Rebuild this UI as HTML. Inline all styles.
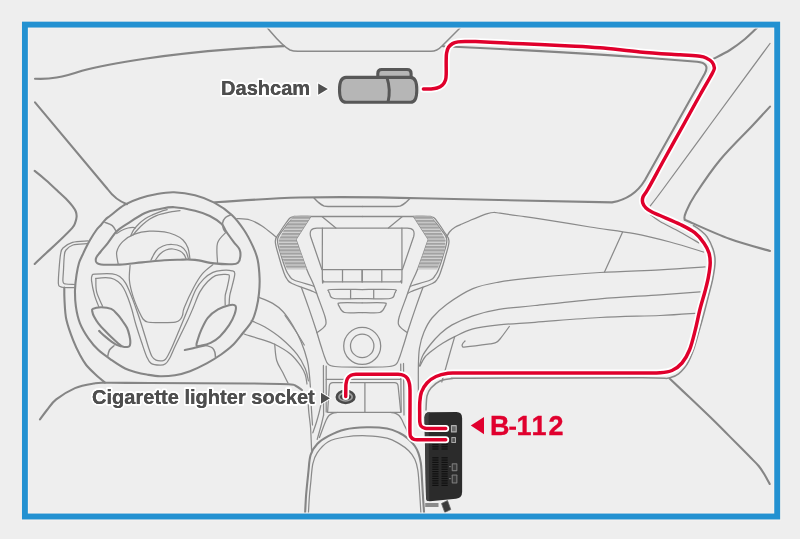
<!DOCTYPE html>
<html><head><meta charset="utf-8">
<style>
html,body{margin:0;padding:0;background:#eeeeee;width:800px;height:539px;overflow:hidden}
svg{display:block;will-change:transform}
.k{fill:none;stroke:#858585;stroke-width:2.1;stroke-linecap:round;stroke-linejoin:round}
.m{fill:none;stroke:#8a8a8a;stroke-width:1.5;stroke-linecap:round;stroke-linejoin:round}
.n{fill:none;stroke:#8a8a8a;stroke-width:1.25;stroke-linecap:round;stroke-linejoin:round}
.lbl{font-family:"Liberation Sans",sans-serif;font-weight:bold;fill:#505050;stroke:#fff;stroke-width:4;paint-order:stroke;stroke-linejoin:round}
.lbl2{font-family:"Liberation Sans",sans-serif;font-weight:bold;fill:#4e4e4e;stroke:#4e4e4e;stroke-width:0.15}
.red{fill:none;stroke:#e0002c;stroke-width:3.5;stroke-linecap:round;stroke-linejoin:round}
.halo{fill:none;stroke:#fff;stroke-width:7;stroke-linecap:round;stroke-linejoin:round}
</style></head><body>
<svg width="800" height="539" viewBox="0 0 800 539">
<defs>
<clipPath id="cp"><rect x="27.9" y="27.6" width="746.4" height="485.9"/></clipPath>
<pattern id="hatch" width="4" height="3.25" patternUnits="userSpaceOnUse" y="216.8"><rect width="4" height="3.25" fill="#d6d6d6"/><rect width="4" height="2.1" fill="#a2a2a2"/></pattern>
</defs>
<g clip-path="url(#cp)">
<path class="k" d="M713.3,59.0 C716.1,57.5 724.7,53.3 730.0,50.0 C735.3,46.7 740.5,42.7 745.0,39.0 C749.5,35.3 755.0,29.7 757.0,27.8"/>
<path class="k" d="M770.0,106.6 C767.2,109.7 761.3,116.1 753.0,125.0 C744.7,133.9 729.7,148.3 720.0,160.0 C710.3,171.7 700.7,186.3 695.0,195.0 C689.3,203.7 687.7,208.0 686.0,212.0 C684.3,216.0 683.9,217.1 684.6,218.8 C685.3,220.5 682.4,218.6 690.0,222.0 C697.6,225.4 716.7,234.2 730.0,239.0 C743.3,243.8 763.3,249.0 770.0,251.0"/>
<path class="k" d="M34.7,170.9 C36.6,172.4 42.0,176.7 46.0,180.2 C50.0,183.7 55.1,188.6 58.4,191.7 C61.7,194.8 63.7,196.4 66.0,198.8 C68.3,201.2 70.7,203.8 72.3,205.9 C73.9,208.0 75.1,209.7 75.8,211.5 C76.5,213.3 76.7,215.0 76.6,216.8 C76.5,218.6 76.0,220.5 75.3,222.3 C74.6,224.2 75.1,224.7 72.3,227.9 C69.5,231.2 62.8,237.6 58.4,241.8 C54.0,246.0 50.0,249.5 46.0,253.2 C42.0,256.9 36.6,262.2 34.7,264.0"/>
<path class="k" d="M174.0,192.3 C180.5,192.5 188.3,193.5 195.0,195.2 C201.7,196.9 208.1,199.3 214.3,202.6 C220.5,205.9 227.2,210.6 232.1,215.2 C237.0,219.8 240.5,224.8 244.0,230.0 C247.5,235.2 250.6,241.4 252.9,246.4 C255.2,251.4 256.6,254.6 257.7,260.0 C258.8,265.4 259.4,273.0 259.6,278.6 C259.8,284.2 259.5,288.5 259.0,293.4 C258.5,298.3 257.7,303.4 256.5,308.0 C255.3,312.6 254.3,316.8 252.0,321.0 C249.7,325.2 245.8,329.4 242.5,333.5 C239.2,337.6 235.9,342.1 232.3,345.6 C228.7,349.1 225.4,351.5 221.1,354.5 C216.8,357.5 211.9,360.6 206.7,363.4 C201.5,366.2 195.3,369.2 190.0,371.2 C184.7,373.2 180.0,374.4 175.0,375.2 C170.0,376.0 164.7,376.3 160.0,376.2 C155.3,376.1 150.9,375.2 146.7,374.5 C142.5,373.8 138.6,372.9 135.0,371.9 C131.4,370.9 129.0,370.4 125.1,368.5 C121.2,366.6 116.2,363.3 111.8,360.2 C107.3,357.1 102.3,353.7 98.4,350.1 C94.5,346.5 91.5,342.8 88.4,338.4 C85.3,333.9 82.1,328.7 80.0,323.4 C77.9,318.1 76.7,312.3 75.9,306.7 C75.1,301.1 74.9,295.3 75.0,290.0 C75.1,284.7 75.8,279.5 76.5,275.0 C77.2,270.5 78.0,266.3 79.0,263.0 C80.0,259.7 81.4,257.4 82.5,255.0 C83.6,252.6 84.2,251.0 85.5,248.5 C86.8,246.0 88.2,243.1 90.0,240.0 C91.8,236.9 94.6,232.5 96.4,230.0 C98.2,227.5 99.5,226.8 101.0,225.0 C102.5,223.2 103.9,221.1 105.5,219.5 C107.1,217.9 107.3,218.0 110.5,215.5 C113.7,213.0 120.0,207.6 124.9,204.7 C129.8,201.8 134.8,199.9 140.0,198.2 C145.2,196.4 150.3,195.2 156.0,194.2 C161.7,193.2 167.5,192.1 174.0,192.3 Z"/>
<path class="k" d="M116.7,231.2 C119.9,228.0 122.4,226.8 127.1,223.8 C131.8,220.8 139.5,215.5 145.0,213.0 C150.5,210.5 155.1,210.0 160.0,209.0 C164.9,208.0 168.6,206.9 174.4,207.2 C180.2,207.5 189.1,209.3 195.0,210.8 C200.9,212.3 205.4,213.8 209.8,216.0 C214.2,218.2 219.0,221.5 221.7,224.1 C224.4,226.7 224.2,228.5 226.2,231.5 C228.2,234.5 231.4,238.9 233.6,241.9 C235.8,244.9 238.4,246.8 239.5,249.3 C240.6,251.8 240.6,254.6 240.3,256.8 C240.1,259.0 239.4,261.5 238.0,262.7 C236.6,263.9 236.0,264.1 232.1,264.2 C228.2,264.3 220.5,264.1 214.3,263.4 C208.1,262.7 200.7,260.5 195.0,259.9 C189.3,259.3 185.1,259.6 180.0,259.7 C174.9,259.8 170.6,259.8 164.3,260.2 C158.0,260.6 149.4,261.7 142.0,262.4 C134.6,263.1 126.9,264.4 119.7,264.6 C112.5,264.9 102.9,264.9 98.9,263.9 C94.9,262.9 95.7,260.5 95.9,258.5 C96.2,256.5 98.4,254.6 100.4,252.0 C102.4,249.4 105.1,246.6 107.8,243.1 C110.5,239.6 113.5,234.4 116.7,231.2 Z"/>
<path class="k" d="M92.8,308.9 C94.2,308.1 98.0,307.2 101.1,307.2 C104.2,307.2 108.4,307.6 111.2,308.9 C114.0,310.2 116.1,313.0 118.0,315.0 C119.9,317.0 121.0,318.8 122.5,321.0 C124.0,323.2 125.9,325.5 127.1,328.0 C128.3,330.5 129.0,333.8 129.5,336.0 C130.0,338.2 130.2,339.5 130.3,341.0 C130.4,342.5 130.3,344.0 130.0,345.0 C129.7,346.0 129.7,346.6 128.4,346.8 C127.2,347.0 124.2,347.0 122.5,346.4 C120.8,345.8 119.8,344.7 118.0,343.2 C116.2,341.7 113.7,339.4 111.5,337.3 C109.3,335.2 107.2,333.1 105.0,330.8 C102.8,328.5 100.3,326.0 98.5,323.6 C96.7,321.2 95.0,318.4 94.0,316.5 C93.0,314.6 92.6,313.3 92.4,312.0 C92.2,310.7 91.3,309.7 92.8,308.9 Z"/>
<path class="k" d="M99.1,330.9 C100.1,331.8 102.9,334.6 105.0,336.4 C107.1,338.2 109.5,340.2 111.5,341.6 C113.5,343.0 115.1,344.1 116.7,344.9 C118.3,345.7 120.3,346.1 121.0,346.4"/>
<path class="k" d="M235.6,306.0 C234.7,304.4 232.0,304.6 229.1,305.2 C226.2,305.8 221.6,307.3 218.0,309.4 C214.4,311.5 210.6,314.4 207.8,317.8 C205.0,321.2 203.0,326.3 201.3,329.9 C199.6,333.5 198.6,336.9 197.8,339.5 C197.0,342.1 196.0,344.6 196.6,345.6 C197.2,346.6 199.0,346.1 201.3,345.6 C203.6,345.2 207.5,344.4 210.6,342.9 C213.7,341.4 216.8,339.3 219.9,336.4 C223.0,333.4 226.7,328.8 229.1,325.2 C231.5,321.6 233.4,317.7 234.5,314.5 C235.6,311.3 236.5,307.6 235.6,306.0 Z"/>
<path class="k" d="M184.8,350.0 C186.0,349.8 189.6,349.1 192.0,348.5 C194.4,347.9 196.7,347.2 199.0,346.7 C201.3,346.1 204.8,345.4 206.0,345.2"/>
<path class="k" d="M64.3,287.5 C64.3,289.6 64.2,294.6 64.5,300.0 C64.8,305.4 64.9,313.0 66.4,319.8 C67.9,326.6 71.0,334.8 73.3,340.7 C75.6,346.6 77.8,350.9 80.0,355.0 C82.2,359.1 83.8,361.8 86.2,365.0 C88.8,368.2 91.9,371.1 95.0,374.0 C98.1,376.9 103.3,381.2 105.0,382.6"/>
<path class="k" d="M669.6,378.6 C673.0,381.8 683.1,391.3 690.0,397.8 C696.9,404.3 704.8,411.8 710.7,417.5 C716.6,423.2 720.6,427.4 725.5,432.3 C730.4,437.2 736.1,442.9 740.2,447.0 C744.3,451.1 746.9,453.8 750.0,457.0 C753.1,460.2 756.3,463.1 758.7,466.0 C761.1,468.9 762.7,471.5 764.5,474.5 C766.3,477.5 768.8,482.4 769.7,484.0"/>
<path class="k" d="M40.0,419.4 C41.2,417.8 44.3,413.3 47.0,410.0 C49.7,406.7 51.6,403.0 56.2,399.4 C60.9,395.8 68.8,390.8 75.0,388.1 C81.2,385.5 88.5,384.4 93.8,383.5 C99.0,382.6 96.9,382.8 106.2,382.8 C115.6,382.7 126.0,382.9 150.0,383.0 C174.0,383.1 226.9,383.3 250.0,383.5 C273.1,383.7 281.0,383.8 288.7,384.2 C296.4,384.6 293.8,385.0 296.0,386.0 C298.2,387.0 301.0,389.3 302.0,390.0"/>
<path class="k" d="M305.0,515.0 C305.2,511.7 305.6,502.0 306.1,495.0 C306.7,488.0 307.6,479.5 308.3,472.8 C309.1,466.1 309.1,459.8 310.6,455.0 C312.1,450.2 314.2,447.0 317.2,443.9 C320.1,440.8 323.7,438.5 328.3,436.1 C332.9,433.7 338.6,431.0 345.0,429.5 C351.4,428.0 359.8,427.5 366.8,427.3 C373.8,427.1 381.6,427.6 387.0,428.5 C392.4,429.4 395.7,431.1 399.1,432.7 C402.5,434.3 404.9,435.9 407.5,438.1 C410.1,440.3 413.0,443.5 414.8,446.0 C416.6,448.5 417.4,450.4 418.4,453.2 C419.4,456.0 420.3,459.7 420.8,462.8 C421.3,465.9 421.3,467.5 421.6,472.0 C421.9,476.5 422.2,482.8 422.6,490.0 C423.0,497.2 423.9,510.8 424.2,515.0"/>
<g><path class="n" d="M321.9,216.6 L335.9,228.0"/>
<path class="n" d="M322.4,228.0 C322.4,236.4 322.2,269.7 322.4,278.5 C322.6,287.3 322.8,280.4 323.5,281.0 C324.2,281.6 320.1,281.7 326.5,281.8 C332.9,281.9 356.2,281.8 362.1,281.8"/>
<path class="n" d="M322.4,269.5 L362.1,269.5"/>
<path class="n" d="M342.5,269.5 L342.5,281.8"/>
<path class="n" d="M362.1,269.5 L362.1,281.8"/>
<path class="n" d="M362.1,289.5 C357.0,289.5 336.6,289.2 331.0,289.5 C325.4,289.8 329.1,290.9 328.8,291.5 C328.6,292.1 328.6,291.8 329.5,293.0 C330.4,294.2 328.9,297.6 334.3,298.5 C339.7,299.4 357.5,298.5 362.1,298.5"/>
<path class="n" d="M350.6,289.5 L350.6,298.5"/>
<path class="n" d="M362.1,302.8 C358.5,302.8 344.5,302.5 340.5,302.8 C336.5,303.1 338.6,304.0 338.4,304.5 C338.1,305.0 338.0,304.7 339.0,306.0 C340.0,307.3 340.6,311.4 344.5,312.5 C348.4,313.6 359.2,312.5 362.1,312.5"/>
<path class="n" d="M310.8,216.5 C308.4,216.5 299.6,216.1 296.5,216.5 C293.4,216.9 294.2,216.8 292.0,219.0 C289.8,221.2 285.4,226.5 283.0,230.0 C280.6,233.5 277.8,235.8 277.5,240.0 C277.2,244.2 279.6,250.0 281.0,255.0 C282.4,260.0 284.6,266.5 286.0,270.0 C287.4,273.5 288.2,274.3 289.5,276.0 C290.8,277.7 290.3,278.4 294.0,280.0 C297.7,281.6 308.4,284.4 311.7,285.5 C315.0,286.6 313.6,286.3 314.0,286.5"/>
<path class="n" d="M294.0,216.5 C293.3,216.8 291.3,216.9 290.0,218.0 C288.7,219.1 287.7,220.7 286.0,223.0 C284.3,225.3 281.8,229.0 280.0,232.0 C278.2,235.0 275.5,236.8 275.3,241.0 C275.1,245.2 277.6,251.7 279.0,257.0 C280.4,262.3 282.7,269.3 284.0,273.0 C285.3,276.7 285.7,277.2 287.0,279.0 C288.3,280.8 287.7,281.4 292.0,283.5 C296.3,285.6 308.9,289.8 313.0,291.5 C317.1,293.2 315.9,293.2 316.5,293.5"/>
<path class="n" d="M310.8,216.5 L296.0,239.5 C297.8,244.4 303.8,261.7 306.7,269.2 C309.6,276.7 311.7,280.0 313.5,284.5 C315.3,289.0 315.8,290.8 317.7,296.2 C319.6,301.6 323.8,312.3 325.1,317.0 C326.5,321.7 326.3,322.4 325.8,324.4 C325.3,326.4 323.6,327.5 322.1,328.9 C320.6,330.3 317.8,332.0 316.9,332.6"/>
<path class="n" d="M301.3,287.3 C302.6,290.8 306.3,300.9 308.8,308.1 C311.3,315.3 314.2,324.0 316.2,330.3 C318.2,336.6 319.5,341.4 321.0,346.0 C322.5,350.6 323.8,355.0 325.0,358.0 C326.2,361.0 326.3,362.6 328.0,364.0 C329.7,365.4 329.3,365.9 335.0,366.5 C340.7,367.1 357.6,367.2 362.1,367.4"/><path class="m" d="M314.0,198.0 C314.7,198.7 316.5,200.8 318.0,202.0 C319.5,203.2 321.3,204.8 323.0,205.5 C324.7,206.2 321.5,206.2 328.0,206.4 C334.5,206.6 356.5,206.4 362.1,206.4"/>
<path class="m" d="M294.0,216.5 L362.1,216.5"/></g><g transform="matrix(-1,0,0,1,724.3,0)"><path class="n" d="M321.9,216.6 L335.9,228.0"/>
<path class="n" d="M322.4,228.0 C322.4,236.4 322.2,269.7 322.4,278.5 C322.6,287.3 322.8,280.4 323.5,281.0 C324.2,281.6 320.1,281.7 326.5,281.8 C332.9,281.9 356.2,281.8 362.1,281.8"/>
<path class="n" d="M322.4,269.5 L362.1,269.5"/>
<path class="n" d="M342.5,269.5 L342.5,281.8"/>
<path class="n" d="M362.1,269.5 L362.1,281.8"/>
<path class="n" d="M362.1,289.5 C357.0,289.5 336.6,289.2 331.0,289.5 C325.4,289.8 329.1,290.9 328.8,291.5 C328.6,292.1 328.6,291.8 329.5,293.0 C330.4,294.2 328.9,297.6 334.3,298.5 C339.7,299.4 357.5,298.5 362.1,298.5"/>
<path class="n" d="M350.6,289.5 L350.6,298.5"/>
<path class="n" d="M362.1,302.8 C358.5,302.8 344.5,302.5 340.5,302.8 C336.5,303.1 338.6,304.0 338.4,304.5 C338.1,305.0 338.0,304.7 339.0,306.0 C340.0,307.3 340.6,311.4 344.5,312.5 C348.4,313.6 359.2,312.5 362.1,312.5"/>
<path class="n" d="M310.8,216.5 C308.4,216.5 299.6,216.1 296.5,216.5 C293.4,216.9 294.2,216.8 292.0,219.0 C289.8,221.2 285.4,226.5 283.0,230.0 C280.6,233.5 277.8,235.8 277.5,240.0 C277.2,244.2 279.6,250.0 281.0,255.0 C282.4,260.0 284.6,266.5 286.0,270.0 C287.4,273.5 288.2,274.3 289.5,276.0 C290.8,277.7 290.3,278.4 294.0,280.0 C297.7,281.6 308.4,284.4 311.7,285.5 C315.0,286.6 313.6,286.3 314.0,286.5"/>
<path class="n" d="M294.0,216.5 C293.3,216.8 291.3,216.9 290.0,218.0 C288.7,219.1 287.7,220.7 286.0,223.0 C284.3,225.3 281.8,229.0 280.0,232.0 C278.2,235.0 275.5,236.8 275.3,241.0 C275.1,245.2 277.6,251.7 279.0,257.0 C280.4,262.3 282.7,269.3 284.0,273.0 C285.3,276.7 285.7,277.2 287.0,279.0 C288.3,280.8 287.7,281.4 292.0,283.5 C296.3,285.6 308.9,289.8 313.0,291.5 C317.1,293.2 315.9,293.2 316.5,293.5"/>
<path class="n" d="M310.8,216.5 L296.0,239.5 C297.8,244.4 303.8,261.7 306.7,269.2 C309.6,276.7 311.7,280.0 313.5,284.5 C315.3,289.0 315.8,290.8 317.7,296.2 C319.6,301.6 323.8,312.3 325.1,317.0 C326.5,321.7 326.3,322.4 325.8,324.4 C325.3,326.4 323.6,327.5 322.1,328.9 C320.6,330.3 317.8,332.0 316.9,332.6"/>
<path class="n" d="M301.3,287.3 C302.6,290.8 306.3,300.9 308.8,308.1 C311.3,315.3 314.2,324.0 316.2,330.3 C318.2,336.6 319.5,341.4 321.0,346.0 C322.5,350.6 323.8,355.0 325.0,358.0 C326.2,361.0 326.3,362.6 328.0,364.0 C329.7,365.4 329.3,365.9 335.0,366.5 C340.7,367.1 357.6,367.2 362.1,367.4"/><path class="m" d="M314.0,198.0 C314.7,198.7 316.5,200.8 318.0,202.0 C319.5,203.2 321.3,204.8 323.0,205.5 C324.7,206.2 321.5,206.2 328.0,206.4 C334.5,206.6 356.5,206.4 362.1,206.4"/>
<path class="m" d="M294.0,216.5 L362.1,216.5"/></g>
<path class="k" d="M35,78.7 C50,79.5 62,77.5 82,70.8 C112,62.5 170,54 230,49.4 C255,47.6 272,46.6 284,46.1"/>
<path class="m" d="M267,27.5 C276,38 282,46 290,50 Q293,51.3 298,51.3 L431,51.3 Q437,51.3 442,46 L460.5,27.5"/>
<path class="k" d="M443,46.2 C480,48 560,51.5 640,57.3 L697,61.8 Q710.5,63 704.8,73.5 L645,180 Q634,198.5 612,202.4 L420,198.3 C380,197.2 340,196.8 300,197.5 C270,198.4 240,200.5 215,202.3"/>
<path class="k" d="M35,102.4 L107.5,189 Q115.5,200 127,204.2"/>
<path class="n" d="M321.9,269.5 L310.6,236.5 Q308.6,228 317,228 L407.3,228 Q415.7,228 413.7,236.5 L402.4,269.5"/>
<path d="M293.5,216.5 L310.8,216.5 L296,239.5 L306.7,269.2 L287,269.2 L280,252 L278.6,240 L285,228 Z" fill="url(#hatch)"/>
<path d="M430.8,216.5 L413.5,216.5 L428.3,239.5 L417.6,269.2 L437.3,269.2 L444.3,252 L445.7,240 L439.3,228 Z" fill="url(#hatch)"/>
<circle cx="362.2" cy="345.9" r="18.5" class="n"/><circle cx="362.2" cy="345.9" r="11.7" class="n"/>
<path class="n" d="M327.6,412.3 L329.3,386 Q329.7,382.6 333,382.6 L394.5,382.6 Q397.8,382.6 398.1,386 L400.8,412.3 Z M364.9,382.6 L364.9,412.3"/>
<path class="m" d="M104.9,222.3 C106.1,222.9 110.4,224.0 112.3,225.6 C114.2,227.2 115.8,230.9 116.5,232.0"/>
<path class="m" d="M231.5,214.5 C230.5,215.0 227.0,216.1 225.5,217.5 C224.0,218.9 222.9,221.1 222.6,223.0 C222.3,224.9 223.0,227.5 223.5,229.0 C224.0,230.5 225.2,231.5 225.5,232.0"/>
<path class="m" d="M107.6,357.0 C107.9,355.8 108.4,351.9 109.5,350.0 C110.6,348.1 113.2,346.4 114.0,345.7"/>
<path class="m" d="M206.5,345.5 C207.5,345.9 211.1,346.9 212.5,348.0 C213.9,349.1 214.3,350.4 214.8,352.0 C215.3,353.6 215.4,356.6 215.5,357.5"/>
<path class="m" d="M693.5,225.5 C694.6,226.2 697.8,228.1 700.0,230.0 C702.2,231.9 704.7,233.5 706.9,236.7 C709.1,239.9 711.6,244.9 713.0,249.0 C714.4,253.1 715.1,256.4 715.1,261.2 C715.1,266.0 714.0,272.2 713.0,277.6 C712.0,283.1 710.4,288.5 709.0,293.9 C707.6,299.3 706.5,303.9 704.9,310.0 C703.3,316.1 701.2,323.8 699.2,330.6 C697.2,337.4 695.5,344.9 693.1,351.0 C690.7,357.1 688.6,362.9 684.9,367.3 C681.1,371.7 678.1,375.9 670.6,377.6 C663.1,379.4 673.4,377.7 640.0,377.8 C606.6,377.9 501.2,378.1 470.0,378.2 C438.8,378.3 457.5,377.9 452.5,378.4 C447.5,378.9 443.6,379.4 440.0,381.0 C436.4,382.6 433.2,385.5 431.0,388.0 C428.8,390.5 427.8,392.3 427.0,396.0 C426.2,399.7 426.2,407.7 426.0,410.0"/>
<path class="n" d="M770.0,43.5 C760.0,57.1 727.9,100.6 710.0,125.0 C692.1,149.4 672.4,176.5 662.4,190.0 C652.4,203.5 652.3,203.2 650.3,205.8"/>
<path class="n" d="M236.8,218.6 C239.0,218.8 245.8,218.8 250.0,220.0 C254.2,221.2 257.6,223.1 262.0,226.0 C266.4,228.9 274.2,235.6 276.7,237.5"/>
<path class="n" d="M130.8,235.6 C131.3,234.6 132.4,231.7 133.8,229.7 C135.2,227.7 137.1,225.7 139.0,223.8 C140.9,221.9 143.3,220.0 145.5,218.5 C147.7,217.0 150.0,216.0 152.4,214.9 C154.8,213.8 157.5,212.7 160.0,211.8 C162.5,210.9 166.0,210.0 167.2,209.7"/>
<path class="n" d="M133.0,234.9 C133.8,234.0 135.8,231.5 137.5,229.7 C139.2,227.9 141.0,226.0 143.0,224.3 C145.0,222.6 147.2,220.8 149.4,219.3 C151.7,217.9 154.0,216.6 156.5,215.6 C159.0,214.6 161.7,214.1 164.3,213.4 C166.9,212.7 169.4,212.1 172.0,211.6 C174.6,211.1 178.7,210.8 180.0,210.6"/>
<path class="n" d="M116.7,233.6 C117.6,233.0 120.1,231.1 122.0,230.2 C123.9,229.3 126.2,228.5 128.0,228.0 C129.8,227.5 131.8,227.3 133.0,227.3 C134.2,227.3 135.1,227.9 135.5,228.0"/>
<path class="n" d="M118.2,263.9 C118.0,261.9 116.0,255.7 116.7,252.0 C117.5,248.3 119.7,244.6 122.7,241.6 C125.7,238.6 130.2,235.9 134.6,234.2 C139.0,232.5 144.4,231.6 149.4,231.2 C154.4,230.8 160.0,231.3 164.3,231.9 C168.6,232.5 171.9,233.7 175.0,235.0 C178.1,236.3 180.8,237.8 183.0,240.0 C185.2,242.2 186.8,244.8 188.0,248.0 C189.2,251.2 189.7,257.5 190.0,259.4"/>
<path class="n" d="M150.9,260.2 C151.8,258.7 154.0,253.4 156.0,251.0 C158.0,248.6 160.3,247.1 163.0,246.0 C165.7,244.9 169.0,244.4 172.0,244.5 C175.0,244.6 178.7,245.3 181.0,246.5 C183.3,247.7 184.7,249.3 186.0,251.5 C187.3,253.7 188.2,258.1 188.6,259.4"/>
<path class="n" d="M155.3,260.2 C156.1,259.2 158.2,255.7 160.0,254.0 C161.8,252.3 163.8,250.8 166.0,250.0 C168.2,249.2 170.7,248.8 173.0,249.0 C175.3,249.2 178.2,250.1 180.0,251.0 C181.8,251.9 182.9,253.1 184.0,254.5 C185.1,255.9 185.9,258.6 186.3,259.4"/>
<path class="n" d="M130.1,265.3 C130.0,267.8 128.9,275.1 129.4,280.3 C129.9,285.5 131.4,291.2 133.1,296.6 C134.8,302.0 137.8,308.8 139.5,312.5 C141.2,316.2 141.7,317.4 143.0,319.0 C144.3,320.6 145.0,321.4 147.5,322.0 C150.0,322.6 153.2,322.5 157.8,322.5 C162.5,322.5 171.6,322.7 175.4,322.1 C179.2,321.5 179.3,320.3 180.5,319.1 C181.7,317.9 182.0,316.9 182.6,315.0 C183.2,313.1 182.5,312.0 184.3,307.5 C186.1,303.0 190.4,293.6 193.4,288.0 C196.4,282.4 199.2,277.6 202.5,273.7 C205.8,269.8 211.2,266.1 212.9,264.6"/>
<path class="n" d="M226.4,231.9 C224.9,233.8 219.0,238.0 217.5,243.1 C216.0,248.2 217.5,259.2 217.5,262.4"/>
<path class="n" d="M98.9,307.0 C98.2,305.0 95.7,299.6 94.5,295.1 C93.3,290.7 91.9,283.6 91.5,280.3 C91.1,277.0 91.6,276.3 92.2,275.3 C92.8,274.3 91.7,274.4 95.0,274.2 C98.3,273.9 108.2,273.4 112.3,273.8 C116.4,274.2 117.5,275.0 119.7,276.6 C121.9,278.2 123.7,280.1 125.6,283.2 C127.5,286.3 129.3,291.0 131.0,295.0 C132.7,299.0 134.0,302.8 135.5,307.0 C137.0,311.2 138.4,315.2 140.0,320.0 C141.6,324.8 143.5,331.2 145.0,336.0 C146.5,340.8 147.8,345.6 149.0,349.0 C150.2,352.4 150.8,354.6 152.0,356.5 C153.2,358.4 154.3,359.5 156.0,360.2 C157.7,360.9 160.7,360.9 162.3,360.8 C163.9,360.7 164.5,360.3 165.5,359.3 C166.5,358.3 167.0,357.2 168.2,355.0 C169.4,352.8 170.9,349.7 172.5,346.0 C174.1,342.3 176.2,337.3 178.0,333.0 C179.8,328.7 181.7,324.2 183.4,320.0 C185.2,315.8 186.4,312.6 188.5,307.5 C190.6,302.4 193.4,294.1 196.0,289.3 C198.6,284.5 201.0,281.7 203.8,278.9 C206.6,276.1 209.9,273.8 212.9,272.4 C215.9,271.0 218.8,270.7 222.0,270.4 C225.2,270.1 229.9,270.3 232.0,270.8 C234.1,271.3 234.8,271.1 234.8,273.5 C234.9,275.9 233.2,281.7 232.3,285.4 C231.5,289.1 230.2,292.5 229.7,295.8 C229.2,299.1 229.2,303.5 229.1,305.0"/>
<path class="n" d="M102.6,306.3 C101.6,303.9 97.8,296.6 96.7,292.2 C95.6,287.8 95.9,282.3 95.9,280.0 C96.0,277.7 94.5,278.6 97.0,278.3 C99.5,278.0 107.3,277.5 110.8,278.1 C114.3,278.7 116.1,280.2 118.2,281.8 C120.3,283.4 121.9,285.3 123.5,288.0 C125.1,290.7 126.6,294.3 128.0,298.0 C129.4,301.7 130.7,305.5 132.0,310.0 C133.3,314.5 134.4,319.7 136.0,325.0 C137.6,330.3 139.7,336.7 141.5,342.0 C143.3,347.3 145.1,353.1 146.7,356.7 C148.3,360.3 148.9,362.0 151.1,363.4 C153.3,364.8 157.6,365.1 160.0,365.2 C162.4,365.3 163.9,364.9 165.5,363.8 C167.1,362.7 167.9,361.4 169.5,358.5 C171.1,355.6 173.0,350.8 175.0,346.5 C177.0,342.2 179.4,337.4 181.5,333.0 C183.6,328.6 185.8,324.2 187.8,320.0 C189.8,315.8 191.3,312.2 193.3,307.5 C195.3,302.8 197.5,296.2 199.9,291.9 C202.3,287.6 205.1,284.2 207.7,281.5 C210.3,278.8 212.7,276.8 215.5,275.6 C218.3,274.4 222.3,274.4 224.5,274.3 C226.7,274.2 227.7,274.4 228.5,274.8 C229.3,275.2 229.5,274.8 229.3,277.0 C229.1,279.2 227.8,284.9 227.1,288.0 C226.4,291.1 225.5,293.0 225.2,295.8 C224.9,298.6 225.2,303.5 225.2,305.0"/>
<path class="n" d="M88.1,240.8 C85.5,241.1 76.7,241.1 72.5,242.3 C68.3,243.5 65.0,246.1 63.0,248.0 C61.0,249.9 61.3,250.3 60.6,254.0 C59.9,257.7 59.4,265.0 59.0,270.0 C58.6,275.0 58.2,281.1 58.4,283.8 C58.6,286.6 59.1,285.9 60.0,286.5 C60.9,287.1 61.1,287.3 63.6,287.5 C66.0,287.7 72.9,287.5 74.7,287.5"/>
<path class="n" d="M86.6,243.7 C84.3,243.9 76.4,243.9 73.0,245.0 C69.6,246.1 67.5,248.2 66.0,250.0 C64.5,251.8 64.7,252.7 64.3,256.0 C63.9,259.3 63.7,265.9 63.5,270.0 C63.3,274.1 62.8,278.6 62.9,280.8 C63.0,283.1 63.5,283.0 64.0,283.5 C64.5,284.0 64.2,283.8 66.0,284.0 C67.8,284.2 73.2,284.4 74.7,284.5"/>
<path class="n" d="M446.5,237.5 C447.0,236.6 448.1,233.7 449.5,232.0 C450.9,230.3 452.9,228.6 455.0,227.3 C457.1,226.0 459.3,225.2 462.0,224.0 C464.7,222.8 468.0,221.3 471.0,220.0 C474.0,218.7 477.2,217.4 480.0,216.3 C482.8,215.2 485.2,214.2 487.5,213.6 C489.8,213.0 491.4,212.6 493.5,212.5 C495.6,212.4 495.6,212.6 500.0,213.2 C504.4,213.8 513.3,215.1 520.0,216.0 C526.7,216.9 528.3,217.0 540.0,218.8 C551.7,220.6 574.2,224.5 590.0,227.0 C605.8,229.5 621.2,231.1 634.5,233.6 C647.8,236.1 658.5,238.9 670.0,242.0 C681.5,245.1 697.9,250.3 703.5,252.0"/>
<path class="n" d="M418.4,392.0 C418.4,387.5 418.2,372.3 418.4,365.0 C418.6,357.7 418.6,353.5 419.5,348.0 C420.4,342.5 421.9,337.0 424.0,332.0 C426.1,327.0 428.2,322.6 432.0,318.0 C435.8,313.4 440.1,309.1 446.9,304.2 C453.7,299.3 464.2,292.3 472.9,288.6 C481.6,284.9 488.5,283.9 498.9,282.1 C509.2,280.3 518.1,279.3 535.0,277.7 C551.9,276.1 579.2,273.8 600.0,272.5 C620.8,271.2 642.5,270.7 660.0,269.8 C677.5,268.9 697.5,267.4 705.0,266.9"/>
<path class="n" d="M622.5,232.3 L604.5,272.0"/>
<path class="n" d="M419.5,366.0 C420.0,364.3 420.8,359.5 422.5,356.0 C424.2,352.5 427.1,348.7 430.0,345.0 C432.9,341.3 436.3,337.4 440.0,334.0 C443.7,330.6 446.6,327.9 452.1,324.9 C457.6,321.9 465.1,318.4 472.9,315.8 C480.7,313.2 488.5,311.1 498.9,309.4 C509.2,307.7 518.1,307.3 535.0,305.5 C551.9,303.7 579.2,300.6 600.0,298.8 C620.8,297.0 643.3,296.1 660.0,294.9 C676.7,293.7 693.3,292.3 700.0,291.8"/>
<path class="n" d="M420.0,366.0 C420.8,364.5 422.8,359.7 425.0,357.0 C427.2,354.3 430.0,352.3 433.0,350.0 C436.0,347.7 439.4,345.2 443.0,343.0 C446.6,340.8 449.7,339.0 454.7,336.6 C459.7,334.2 465.5,330.8 472.9,328.8 C480.3,326.9 488.5,326.0 498.9,324.9 C509.2,323.8 518.1,323.5 535.0,322.3 C551.9,321.1 579.2,318.6 600.0,317.5 C620.8,316.4 644.1,316.2 660.0,315.5 C675.9,314.8 689.2,313.7 695.1,313.3"/>
<path class="n" d="M454.7,336.6 C453.6,340.5 450.1,352.4 448.0,360.0 C445.9,367.6 442.8,378.3 441.8,382.0"/>
<path class="n" d="M509.3,326.5 C507.8,328.6 502.2,336.3 500.0,339.0 C497.8,341.7 497.7,341.7 496.0,342.5 C494.3,343.3 495.0,343.1 490.0,343.8 C485.0,344.5 470.6,346.4 466.0,346.8 C461.4,347.2 463.1,347.0 462.5,346.5 C461.9,346.0 462.1,344.9 462.5,344.0 C462.9,343.1 464.6,341.5 465.0,341.0"/>
<path class="n" d="M650.3,214.5 C651.9,215.7 655.0,218.6 660.0,221.5 C665.0,224.4 673.5,228.4 680.0,232.0 C686.5,235.6 695.7,241.1 698.8,242.9"/>
<path class="n" d="M258.4,297.2 C260.8,298.2 268.6,301.0 272.7,303.4 C276.8,305.8 279.5,307.8 282.9,311.5 C286.3,315.2 289.9,320.7 293.0,325.8 C296.1,330.9 298.8,336.3 301.2,342.1 C303.6,347.9 305.9,355.1 307.3,360.5 C308.7,365.9 308.9,370.4 309.4,374.8 C309.9,379.2 310.2,385.0 310.4,387.0"/>
<path class="n" d="M251.2,320.7 C253.4,321.7 259.6,323.9 264.5,326.8 C269.4,329.7 275.4,333.5 280.8,338.1 C286.2,342.7 293.0,349.3 297.1,354.4 C301.2,359.5 303.4,364.3 305.3,368.7 C307.2,373.1 307.9,378.9 308.4,380.9"/>
<path class="n" d="M244.1,334.0 C246.8,334.9 255.3,337.4 260.4,339.1 C265.5,340.8 269.6,341.6 274.7,344.2 C279.8,346.8 286.6,350.7 291.0,354.4 C295.4,358.1 298.8,363.2 301.2,366.6 C303.6,370.0 304.3,371.9 305.3,374.8 C306.3,377.7 306.7,382.5 307.0,384.0"/>
<path class="n" d="M274.7,344.2 C275.0,346.9 275.3,355.7 276.7,360.5 C278.1,365.3 281.0,369.1 282.9,372.8 C284.8,376.6 287.1,381.3 288.0,383.0"/>
<path class="n" d="M285.0,315.5 C286.7,317.9 291.8,325.1 295.0,330.0 C298.2,334.9 302.8,342.5 304.3,345.0"/>
<path class="n" d="M323.4,365.5 L323.6,415.0"/>
<path class="n" d="M326.2,366.0 L326.2,412.0"/>
<path class="n" d="M400.7,364.0 L401.2,412.0"/>
<path class="n" d="M403.5,363.5 L404.0,415.0"/>
<path class="n" d="M326.2,379.3 L400.7,379.3"/>
<path class="n" d="M319.4,437.5 C320.0,435.9 321.9,430.9 323.0,428.0 C324.1,425.1 325.2,422.1 326.2,420.0 C327.2,417.9 327.9,416.6 329.0,415.5 C330.1,414.4 331.2,413.8 332.5,413.3 C333.8,412.8 336.2,412.6 337.0,412.5"/>
<path class="n" d="M391.0,412.5 C391.8,412.6 394.2,412.8 395.5,413.3 C396.8,413.8 397.9,414.4 399.0,415.5 C400.1,416.6 401.1,418.3 402.0,420.0 C402.9,421.7 403.8,424.0 404.5,425.5 C405.2,427.0 405.8,427.8 406.3,429.1 C406.9,430.4 407.6,432.8 407.8,433.5"/>
<path class="n" d="M308.3,515.0 C308.5,511.7 309.1,500.2 309.5,495.0 C309.9,489.8 310.1,489.1 310.6,483.9 C311.2,478.7 311.7,469.1 312.8,463.9 C313.9,458.7 314.6,456.5 317.2,452.8 C319.8,449.1 323.7,444.3 328.3,441.7 C332.9,439.1 338.6,438.0 345.0,437.0 C351.4,436.0 359.8,435.6 366.8,435.8 C373.8,436.0 381.6,436.8 387.0,438.1 C392.4,439.4 395.5,441.5 399.1,443.6 C402.7,445.7 406.1,448.2 408.7,450.8 C411.3,453.4 413.3,456.0 414.8,459.2 C416.3,462.4 417.0,464.9 417.8,470.0 C418.6,475.1 419.0,482.5 419.5,490.0 C420.0,497.5 420.8,510.8 421.0,515.0"/>
<path class="n" d="M308.0,395.0 C308.1,397.5 308.2,404.4 308.6,410.0 C309.0,415.6 310.1,421.2 310.6,428.3 C311.1,435.4 311.5,448.7 311.7,452.8"/>
<path class="n" d="M310.6,395.0 C310.8,397.5 311.2,405.0 311.5,410.0 C311.8,415.0 312.3,422.5 312.5,425.0"/>
<path class="n" d="M321.0,400.0 C320.9,401.0 321.4,402.4 320.6,406.1 C319.9,409.8 317.8,417.6 316.5,422.0 C315.2,426.4 313.4,431.0 312.8,432.8"/>
<path class="n" d="M323.6,415.0 C323.2,416.8 322.1,421.9 321.0,426.0 C319.9,430.1 317.8,437.2 317.2,439.4"/>

<g>
<path d="M425.2,503 L438.5,503 L438.5,507 L425.2,507 Z" fill="#8a8a8a"/>
<path d="M424.4,417.5 Q424.6,412.4 429.5,412.3 L456.5,412.1 Q462.1,412.3 462.1,418 L462.1,492 Q462.1,498 456,498.8 L430,501.3 Q426.2,501.4 426,497 Z" fill="#2b2b2b"/>
<path d="M424.6,417.5 Q424.8,412.4 429.5,412.3 L430,412.3 Q428.6,414 428.6,418 L429.3,500.8 L427.4,501 Q426.2,501.1 426,497 Z" fill="#3e3e3e"/>
<rect x="450.9" y="425.1" width="5.9" height="7.4" rx="0.6" fill="#b0b0b0"/>
<rect x="452" y="426.3" width="3.7" height="5" fill="#6a6a6a"/>
<rect x="451.3" y="437" width="4.7" height="6.1" rx="0.6" fill="#a8a8a8"/>
<rect x="452.3" y="438.1" width="2.7" height="3.9" fill="#555"/>
<rect x="451.7" y="463.2" width="5.7" height="8.1" rx="0.8" fill="#7a7a7a"/>
<rect x="452.8" y="464.4" width="3.5" height="5.7" fill="#3a3a3a"/>
<rect x="451.7" y="474.4" width="5.7" height="9.2" rx="0.8" fill="#7a7a7a"/>
<rect x="452.8" y="475.6" width="3.5" height="6.8" fill="#3a3a3a"/>
<rect x="449" y="466" width="2.2" height="1.2" fill="#6a6a6a"/>
<rect x="449" y="478" width="2.2" height="1.2" fill="#6a6a6a"/>
<path d="M441.5,503.5 L447.5,500.5 L450.8,509.5 L444.8,512.5 Z" fill="#3a3a3a" stroke="#6a6a6a" stroke-width="0.8"/>
<rect x="432.3" y="444.0" width="6.2" height="1.2" fill="#111"/><rect x="441.5" y="444.0" width="6.2" height="1.2" fill="#111"/><rect x="432.3" y="446.2" width="6.2" height="1.2" fill="#111"/><rect x="441.5" y="446.2" width="6.2" height="1.2" fill="#111"/><rect x="432.3" y="448.4" width="6.2" height="1.2" fill="#111"/><rect x="441.5" y="448.4" width="6.2" height="1.2" fill="#111"/><rect x="432.3" y="457.2" width="6.2" height="1.2" fill="#111"/><rect x="441.5" y="457.2" width="6.2" height="1.2" fill="#111"/><rect x="432.3" y="459.5" width="6.2" height="1.2" fill="#111"/><rect x="441.5" y="459.5" width="6.2" height="1.2" fill="#111"/><rect x="432.3" y="461.8" width="6.2" height="1.2" fill="#111"/><rect x="441.5" y="461.8" width="6.2" height="1.2" fill="#111"/><rect x="432.3" y="464.1" width="6.2" height="1.2" fill="#111"/><rect x="441.5" y="464.1" width="6.2" height="1.2" fill="#111"/><rect x="432.3" y="466.4" width="6.2" height="1.2" fill="#111"/><rect x="441.5" y="466.4" width="6.2" height="1.2" fill="#111"/><rect x="432.3" y="468.7" width="6.2" height="1.2" fill="#111"/><rect x="441.5" y="468.7" width="6.2" height="1.2" fill="#111"/><rect x="432.3" y="471.0" width="6.2" height="1.2" fill="#111"/><rect x="441.5" y="471.0" width="6.2" height="1.2" fill="#111"/><rect x="432.3" y="473.3" width="6.2" height="1.2" fill="#111"/><rect x="441.5" y="473.3" width="6.2" height="1.2" fill="#111"/><rect x="432.3" y="475.6" width="6.2" height="1.2" fill="#111"/><rect x="441.5" y="475.6" width="6.2" height="1.2" fill="#111"/><rect x="432.3" y="477.9" width="6.2" height="1.2" fill="#111"/><rect x="441.5" y="477.9" width="6.2" height="1.2" fill="#111"/><rect x="432.3" y="480.2" width="6.2" height="1.2" fill="#111"/><rect x="441.5" y="480.2" width="6.2" height="1.2" fill="#111"/><rect x="432.3" y="482.5" width="6.2" height="1.2" fill="#111"/><rect x="441.5" y="482.5" width="6.2" height="1.2" fill="#111"/><rect x="432.3" y="484.8" width="6.2" height="1.2" fill="#111"/><rect x="441.5" y="484.8" width="6.2" height="1.2" fill="#111"/></g>
<path d="M346,77.4 L410.5,77.4 C415,77.4 416.8,82 416.8,89.9 C416.8,97.8 415,102.3 410.5,102.3 L346,102.3 C341.5,102.3 339.5,97.8 339.5,89.9 C339.5,82 341.5,77.4 346,77.4 Z" fill="#b6b6b6" stroke="#575757" stroke-width="3.1"/>
<path d="M377.8,77.4 L377.8,73.5 Q377.8,69.5 381.8,69.5 L407.1,69.5 Q411.1,69.5 411.1,73.5 L411.1,77.4 Z" fill="#b6b6b6" stroke="#575757" stroke-width="3.1" stroke-linejoin="round"/>
<path d="M386.9,77.4 Q391,89.9 388,102.3" fill="none" stroke="#575757" stroke-width="3"/>
<ellipse cx="345.6" cy="396.9" rx="11.3" ry="8.5" fill="#f4f4f4" opacity="0.7"/>
<ellipse cx="345.6" cy="396.9" rx="10.1" ry="7.35" fill="#4a4a4a"/>
<ellipse cx="345.6" cy="396.9" rx="7.4" ry="4.8" fill="#a0a0a0"/>
<ellipse cx="345.6" cy="397" rx="5.7" ry="3.3" fill="#454545"/>
<path class="halo" d="M345.7,396.6 C345.7,395.5 345.8,392.1 345.8,390.0 C345.9,387.9 345.7,385.9 346.0,384.0 C346.3,382.1 346.7,379.9 347.5,378.5 C348.3,377.1 349.6,376.0 351.0,375.3 C352.4,374.6 352.8,374.5 356.0,374.3 C359.2,374.1 365.2,374.3 370.0,374.3 C374.8,374.3 380.3,374.3 385.0,374.3 C389.7,374.3 394.8,374.1 398.0,374.3 C401.2,374.5 402.4,374.8 404.0,375.5 C405.6,376.2 406.6,377.1 407.5,378.5 C408.4,379.9 409.1,382.1 409.5,384.0 C409.9,385.9 409.9,385.7 410.0,390.0 C410.1,394.3 410.0,402.8 410.0,410.0 C410.0,417.2 409.8,428.5 410.0,433.0 C410.2,437.5 410.3,435.9 411.0,437.0 C411.7,438.1 412.7,438.9 414.0,439.3 C415.3,439.8 416.3,439.6 419.0,439.7 C421.7,439.8 425.6,439.7 430.0,439.7 C434.4,439.7 443.1,439.7 445.7,439.7"/>
<path class="red" d="M345.7,396.6 C345.7,395.5 345.8,392.1 345.8,390.0 C345.9,387.9 345.7,385.9 346.0,384.0 C346.3,382.1 346.7,379.9 347.5,378.5 C348.3,377.1 349.6,376.0 351.0,375.3 C352.4,374.6 352.8,374.5 356.0,374.3 C359.2,374.1 365.2,374.3 370.0,374.3 C374.8,374.3 380.3,374.3 385.0,374.3 C389.7,374.3 394.8,374.1 398.0,374.3 C401.2,374.5 402.4,374.8 404.0,375.5 C405.6,376.2 406.6,377.1 407.5,378.5 C408.4,379.9 409.1,382.1 409.5,384.0 C409.9,385.9 409.9,385.7 410.0,390.0 C410.1,394.3 410.0,402.8 410.0,410.0 C410.0,417.2 409.8,428.5 410.0,433.0 C410.2,437.5 410.3,435.9 411.0,437.0 C411.7,438.1 412.7,438.9 414.0,439.3 C415.3,439.8 416.3,439.6 419.0,439.7 C421.7,439.8 425.6,439.7 430.0,439.7 C434.4,439.7 443.1,439.7 445.7,439.7"/>
<path class="halo" d="M423.4,89.1 C424.5,89.1 427.7,89.2 430.0,89.0 C432.3,88.8 434.9,88.7 437.0,88.0 C439.1,87.3 441.1,86.3 442.5,85.0 C443.9,83.7 444.9,81.8 445.5,80.0 C446.1,78.2 446.1,77.3 446.2,74.0 C446.3,70.7 446.1,63.5 446.2,60.0 C446.3,56.5 446.2,55.1 446.6,53.0 C447.0,50.9 447.5,48.8 448.5,47.2 C449.5,45.6 450.9,44.5 452.5,43.6 C454.1,42.7 455.9,42.3 458.0,41.9 C460.1,41.5 462.2,41.4 465.0,41.4 C467.8,41.4 470.8,41.5 475.0,41.6 C479.2,41.8 483.3,42.0 490.0,42.3 C496.7,42.6 506.7,43.1 515.0,43.5 C523.3,43.9 530.8,44.2 540.0,44.6 C549.2,45.0 560.0,45.5 570.0,46.0 C580.0,46.5 588.3,46.8 600.0,47.8 C611.7,48.8 626.7,50.7 640.0,51.9 C653.3,53.1 670.0,54.1 680.0,54.8 C690.0,55.5 695.5,55.7 700.0,56.3 C704.5,56.9 705.0,57.5 707.0,58.5 C709.0,59.5 710.8,60.5 712.0,62.0 C713.2,63.5 714.2,65.7 714.3,67.5 C714.4,69.3 714.9,68.4 712.5,73.0 C710.1,77.6 704.7,86.7 700.0,95.0 C695.3,103.3 690.3,112.5 684.5,123.0 C678.7,133.5 671.1,147.0 665.0,158.0 C658.9,169.0 651.7,182.5 648.0,189.0 C644.3,195.5 643.9,194.7 643.0,197.0 C642.1,199.3 642.3,201.2 642.8,203.0 C643.3,204.8 644.5,206.5 646.0,208.0 C647.5,209.5 649.7,210.8 652.0,212.0 C654.3,213.2 655.3,213.4 660.0,215.5 C664.7,217.6 674.6,221.6 680.4,224.5 C686.2,227.4 690.8,229.6 694.7,232.7 C698.6,235.8 701.5,239.5 703.9,242.9 C706.3,246.3 708.0,249.7 709.0,253.1 C710.0,256.5 710.3,259.2 710.2,263.3 C710.1,267.4 709.2,272.9 708.3,277.6 C707.4,282.4 706.3,286.4 704.9,291.8 C703.5,297.2 701.4,303.5 699.8,310.0 C698.2,316.5 696.8,323.9 695.1,330.6 C693.4,337.3 691.7,344.6 689.5,350.0 C687.3,355.4 684.9,359.6 682.0,363.0 C679.1,366.4 675.7,368.9 672.0,370.5 C668.3,372.1 665.3,372.3 660.0,372.7 C654.7,373.1 650.0,372.8 640.0,372.9 C630.0,372.9 615.0,373.0 600.0,373.0 C585.0,373.0 566.7,373.0 550.0,373.0 C533.3,373.0 515.0,373.0 500.0,373.0 C485.0,373.0 468.7,372.9 460.0,373.0 C451.3,373.1 452.0,372.7 448.0,373.3 C444.0,373.9 439.5,374.9 436.0,376.5 C432.5,378.1 429.4,380.4 427.0,383.0 C424.6,385.6 422.7,388.8 421.5,392.0 C420.3,395.2 420.1,398.2 419.8,402.0 C419.5,405.8 419.7,411.7 419.7,415.0 C419.7,418.3 419.6,420.2 419.8,422.0 C420.0,423.8 420.1,424.9 421.0,426.0 C421.9,427.1 423.2,427.9 425.0,428.3 C426.8,428.7 428.6,428.5 432.0,428.5 C435.4,428.5 443.4,428.5 445.7,428.5"/>
<path class="red" d="M423.4,89.1 C424.5,89.1 427.7,89.2 430.0,89.0 C432.3,88.8 434.9,88.7 437.0,88.0 C439.1,87.3 441.1,86.3 442.5,85.0 C443.9,83.7 444.9,81.8 445.5,80.0 C446.1,78.2 446.1,77.3 446.2,74.0 C446.3,70.7 446.1,63.5 446.2,60.0 C446.3,56.5 446.2,55.1 446.6,53.0 C447.0,50.9 447.5,48.8 448.5,47.2 C449.5,45.6 450.9,44.5 452.5,43.6 C454.1,42.7 455.9,42.3 458.0,41.9 C460.1,41.5 462.2,41.4 465.0,41.4 C467.8,41.4 470.8,41.5 475.0,41.6 C479.2,41.8 483.3,42.0 490.0,42.3 C496.7,42.6 506.7,43.1 515.0,43.5 C523.3,43.9 530.8,44.2 540.0,44.6 C549.2,45.0 560.0,45.5 570.0,46.0 C580.0,46.5 588.3,46.8 600.0,47.8 C611.7,48.8 626.7,50.7 640.0,51.9 C653.3,53.1 670.0,54.1 680.0,54.8 C690.0,55.5 695.5,55.7 700.0,56.3 C704.5,56.9 705.0,57.5 707.0,58.5 C709.0,59.5 710.8,60.5 712.0,62.0 C713.2,63.5 714.2,65.7 714.3,67.5 C714.4,69.3 714.9,68.4 712.5,73.0 C710.1,77.6 704.7,86.7 700.0,95.0 C695.3,103.3 690.3,112.5 684.5,123.0 C678.7,133.5 671.1,147.0 665.0,158.0 C658.9,169.0 651.7,182.5 648.0,189.0 C644.3,195.5 643.9,194.7 643.0,197.0 C642.1,199.3 642.3,201.2 642.8,203.0 C643.3,204.8 644.5,206.5 646.0,208.0 C647.5,209.5 649.7,210.8 652.0,212.0 C654.3,213.2 655.3,213.4 660.0,215.5 C664.7,217.6 674.6,221.6 680.4,224.5 C686.2,227.4 690.8,229.6 694.7,232.7 C698.6,235.8 701.5,239.5 703.9,242.9 C706.3,246.3 708.0,249.7 709.0,253.1 C710.0,256.5 710.3,259.2 710.2,263.3 C710.1,267.4 709.2,272.9 708.3,277.6 C707.4,282.4 706.3,286.4 704.9,291.8 C703.5,297.2 701.4,303.5 699.8,310.0 C698.2,316.5 696.8,323.9 695.1,330.6 C693.4,337.3 691.7,344.6 689.5,350.0 C687.3,355.4 684.9,359.6 682.0,363.0 C679.1,366.4 675.7,368.9 672.0,370.5 C668.3,372.1 665.3,372.3 660.0,372.7 C654.7,373.1 650.0,372.8 640.0,372.9 C630.0,372.9 615.0,373.0 600.0,373.0 C585.0,373.0 566.7,373.0 550.0,373.0 C533.3,373.0 515.0,373.0 500.0,373.0 C485.0,373.0 468.7,372.9 460.0,373.0 C451.3,373.1 452.0,372.7 448.0,373.3 C444.0,373.9 439.5,374.9 436.0,376.5 C432.5,378.1 429.4,380.4 427.0,383.0 C424.6,385.6 422.7,388.8 421.5,392.0 C420.3,395.2 420.1,398.2 419.8,402.0 C419.5,405.8 419.7,411.7 419.7,415.0 C419.7,418.3 419.6,420.2 419.8,422.0 C420.0,423.8 420.1,424.9 421.0,426.0 C421.9,427.1 423.2,427.9 425.0,428.3 C426.8,428.7 428.6,428.5 432.0,428.5 C435.4,428.5 443.4,428.5 445.7,428.5"/>
</g>
<rect x="24.9" y="24.6" width="752.3" height="491.9" fill="none" stroke="#f6f2f0" stroke-width="8"/>
<rect x="24.9" y="24.6" width="752.3" height="491.9" fill="none" stroke="#2391d1" stroke-width="5.9"/>
<text class="lbl" x="221" y="95" font-size="21" textLength="89.2" lengthAdjust="spacingAndGlyphs">Dashcam</text><text class="lbl2" x="221" y="95" font-size="21" textLength="89.2" lengthAdjust="spacingAndGlyphs">Dashcam</text>
<path d="M318.2,83.5 L327.8,89.1 L318.2,94.75 Z" fill="#505050" stroke="#fff" stroke-width="2" paint-order="stroke"/>
<text class="lbl" x="92" y="403.5" font-size="21" textLength="222.8" lengthAdjust="spacingAndGlyphs">Cigarette lighter socket</text><text class="lbl2" x="92" y="403.5" font-size="21" textLength="222.8" lengthAdjust="spacingAndGlyphs">Cigarette lighter socket</text>
<path d="M321,392.8 L330,398.3 L321,403.8 Z" fill="#505050" stroke="#fff" stroke-width="2" paint-order="stroke"/>
<text x="490 516.4 531.5 548.6" y="435" font-size="27" font-family="Liberation Sans" font-weight="bold" fill="#e0002e" stroke="#e0002e" stroke-width="0.35">B112</text><rect x="509.3" y="426.6" width="6.7" height="3.2" fill="#e0002e"/>
<path d="M470.8,425.6 L484,417 L484,434.3 Z" fill="#e0002e"/>
</svg>
</body></html>
